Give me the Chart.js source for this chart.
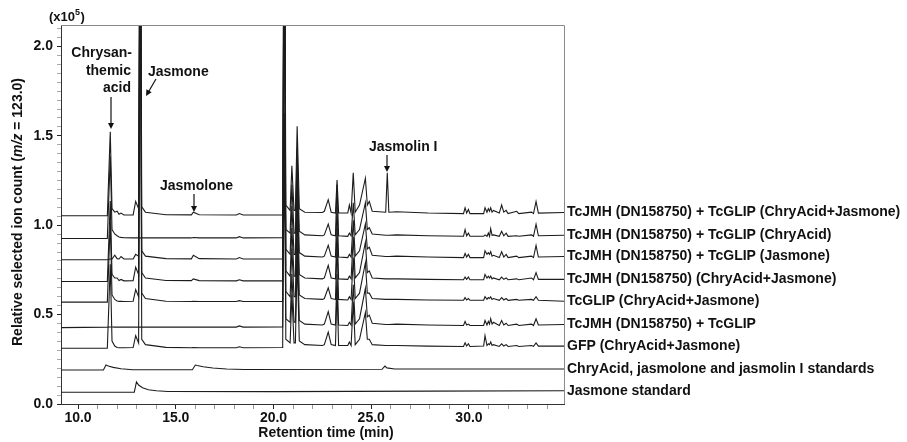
<!DOCTYPE html>
<html>
<head>
<meta charset="utf-8">
<script src="https://cdn.jsdelivr.net/npm/chart.js@4.4.1/dist/chart.umd.min.js"></script>
<style>
  body { margin: 0; background: #fff; }
</style>
</head>
<body>
<canvas id="gcChart" width="907" height="442"></canvas>
<script>
// retention time grid (min) shared by the seven sample traces
const retentionTime = [
  9.13, 11.50, 11.65, 11.74, 11.88, 12.00, 12.10, 12.20, 12.35, 12.82,
  12.95, 13.10, 13.18, 13.26, 13.45, 14.50, 15.80, 15.90, 16.20, 18.10,
  18.25, 18.45, 20.47, 20.55, 20.63, 20.85, 20.94, 21.05, 21.12, 21.21,
  21.32, 21.60, 22.50, 22.60, 22.80, 22.95, 23.17, 23.25, 23.33, 23.80,
  23.88, 23.97, 24.08, 24.18, 24.40, 24.70, 24.80, 24.90, 25.05, 25.74,
  25.82, 25.90, 26.30, 27.90, 29.72, 29.80, 29.88, 29.97, 30.05, 30.75,
  30.82, 30.92, 30.99, 31.05, 31.11, 31.18, 31.25, 31.55, 31.67, 31.78,
  31.90, 32.00, 32.44, 32.55, 33.20, 33.30, 33.43, 33.55, 34.86
];

// signal above each trace's own baseline (x10^5)
const jmhGlipBoth = [
  0, 0, 0.47, 0.04, 0.02, 0.025, 0.008, 0.015, 0.004, 0.005,
  0.08, 0.04, 2.5, 0.05, 0.02, 0.006, 0.005, 0.02, 0.006, 0.004,
  0.012, 0.004, 0.004, 2.5, 0.06, 0.03, 0.28, 0.03, 0.03, 0.50,
  0.04, 0.02, 0.018, 0.025, 0.09, 0.02, 0.015, 0.20, 0.015, 0.015,
  0.06, 0.015, 0.24, 0.02, 0.06, 0.21, 0.06, 0.08, 0.025, 0.02,
  0.24, 0.02, 0.022, 0.015, 0.012, 0.045, 0.015, 0.035, 0.012, 0.012,
  0.045, 0.02, 0.04, 0.025, 0.045, 0.02, 0.03, 0.015, 0.06, 0.02,
  0.03, 0.012, 0.025, 0.012, 0.02, 0.012, 0.08, 0.015, 0.018
];
const jmhGlipChry = [
  0, 0, 0.46, 0.05, 0.025, 0.015, 0.008, 0.006, 0.004, 0.003,
  0.003, 0.003, 0.003, 0.003, 0.003, 0.003, 0.003, 0.005, 0.003, 0.003,
  0.01, 0.003, 0.004, 0.70, 0.05, 0.03, 0.30, 0.03, 0.03, 0.50,
  0.04, 0.02, 0.015, 0.02, 0.08, 0.02, 0.015, 0.30, 0.015, 0.012,
  0.03, 0.015, 0.20, 0.02, 0.05, 0.20, 0.05, 0.06, 0.025, 0.018,
  0.018, 0.018, 0.02, 0.015, 0.012, 0.05, 0.015, 0.03, 0.012, 0.012,
  0.02, 0.012, 0.03, 0.012, 0.055, 0.018, 0.02, 0.012, 0.04, 0.015,
  0.03, 0.012, 0.015, 0.012, 0.02, 0.012, 0.08, 0.015, 0.018
];
const jmhGlipJas = [
  0, 0, 0.004, 0.004, 0.025, 0.006, 0.004, 0.018, 0.004, 0.004,
  0.03, 0.02, 2.5, 0.05, 0.02, 0.006, 0.005, 0.025, 0.006, 0.004,
  0.012, 0.004, 0.004, 2.5, 0.06, 0.03, 0.30, 0.03, 0.03, 0.50,
  0.04, 0.02, 0.015, 0.02, 0.08, 0.02, 0.015, 0.30, 0.015, 0.012,
  0.03, 0.015, 0.22, 0.02, 0.05, 0.20, 0.06, 0.07, 0.025, 0.018,
  0.018, 0.018, 0.02, 0.015, 0.012, 0.035, 0.015, 0.03, 0.012, 0.012,
  0.05, 0.03, 0.04, 0.03, 0.045, 0.02, 0.025, 0.012, 0.045, 0.015,
  0.03, 0.012, 0.02, 0.012, 0.02, 0.012, 0.08, 0.015, 0.018
];
const jmhBoth = [
  0, 0, 0.45, 0.04, 0.02, 0.02, 0.006, 0.012, 0.004, 0.005,
  0.08, 0.04, 2.5, 0.05, 0.02, 0.006, 0.005, 0.015, 0.005, 0.004,
  0.01, 0.004, 0.004, 2.5, 0.06, 0.03, 0.30, 0.03, 0.03, 0.50,
  0.04, 0.02, 0.015, 0.02, 0.09, 0.02, 0.015, 0.30, 0.015, 0.012,
  0.03, 0.015, 0.25, 0.02, 0.05, 0.22, 0.05, 0.06, 0.02, 0.015,
  0.015, 0.015, 0.015, 0.012, 0.01, 0.025, 0.012, 0.025, 0.01, 0.01,
  0.04, 0.02, 0.03, 0.02, 0.03, 0.015, 0.02, 0.01, 0.025, 0.012,
  0.02, 0.01, 0.015, 0.01, 0.02, 0.01, 0.05, 0.012, 0.012
];
const glipBoth = [
  0, 0, 0.45, 0.04, 0.015, 0.006, 0.004, 0.004, 0.003, 0.005,
  0.07, 0.03, 2.5, 0.05, 0.02, 0.005, 0.003, 0.004, 0.003, 0.003,
  0.008, 0.003, 0.004, 2.5, 0.06, 0.03, 0.30, 0.03, 0.03, 0.50,
  0.04, 0.02, 0.015, 0.02, 0.08, 0.02, 0.015, 0.32, 0.015, 0.012,
  0.03, 0.015, 0.25, 0.02, 0.05, 0.22, 0.05, 0.05, 0.02, 0.015,
  0.015, 0.015, 0.015, 0.012, 0.01, 0.025, 0.012, 0.02, 0.01, 0.01,
  0.03, 0.015, 0.025, 0.02, 0.03, 0.015, 0.02, 0.01, 0.025, 0.012,
  0.02, 0.01, 0.015, 0.01, 0.015, 0.01, 0.03, 0.01, 0.005
];
const jmhGlipNone = [
  0, 0.003, 0.004, 0.004, 0.003, 0.003, 0.003, 0.003, 0.003, 0.003,
  0.003, 0.003, 0.003, 0.003, 0.003, 0.003, 0.003, 0.004, 0.003, 0.003,
  0.01, 0.003, 0.004, 0.95, 0.05, 0.03, 0.30, 0.03, 0.03, 0.50,
  0.04, 0.02, 0.015, 0.02, 0.09, 0.02, 0.015, 0.30, 0.015, 0.012,
  0.03, 0.015, 0.24, 0.02, 0.05, 0.22, 0.06, 0.07, 0.025, 0.018,
  0.018, 0.018, 0.02, 0.015, 0.012, 0.035, 0.015, 0.02, 0.012, 0.012,
  0.04, 0.015, 0.035, 0.02, 0.05, 0.02, 0.03, 0.012, 0.04, 0.015,
  0.025, 0.012, 0.02, 0.012, 0.02, 0.012, 0.05, 0.015, 0.018
];
const gfpBoth = [
  0, 0, 0.47, 0.04, 0.012, 0.004, 0.003, 0.003, 0.003, 0.004,
  0.07, 0.03, 2.5, 0.05, 0.02, 0.005, 0.003, 0.004, 0.003, 0.003,
  0.008, 0.003, 0.004, 2.5, 0.05, 0.03, 0.30, 0.03, 0.03, 0.50,
  0.04, 0.02, 0.015, 0.02, 0.09, 0.02, 0.015, 0.33, 0.015, 0.015,
  0.035, 0.015, 0.26, 0.02, 0.05, 0.20, 0.05, 0.05, 0.02, 0.015,
  0.015, 0.015, 0.015, 0.012, 0.01, 0.03, 0.012, 0.025, 0.01, 0.012,
  0.07, 0.015, 0.025, 0.02, 0.035, 0.015, 0.02, 0.01, 0.025, 0.012,
  0.02, 0.01, 0.015, 0.01, 0.015, 0.01, 0.03, 0.012, 0.012
];

// standards runs have their own time points
const standardsTime = [9.13, 11.30, 11.43, 11.55, 11.80, 12.20, 12.80, 15.85, 16.00, 16.10, 16.40, 16.90, 17.60, 18.50, 25.55, 25.70, 25.80, 26.20, 34.86];
const standardsHeight = [0, 0, 0.028, 0.022, 0.015, 0.007, 0.002, 0.002, 0.028, 0.025, 0.018, 0.011, 0.006, 0.003, 0.004, 0.022, 0.012, 0.006, 0.006];
const jasmoneStdTime = [9.13, 12.88, 12.99, 13.10, 13.30, 13.60, 14.00, 14.60, 20.00, 28.00, 34.86];
const jasmoneStdHeight = [0, 0, 0.058, 0.04, 0.025, 0.014, 0.008, 0.004, 0.003, 0.006, 0.008];

const traceLabels = [
  "TcJMH (DN158750) + TcGLIP (ChryAcid+Jasmone)",
  "TcJMH (DN158750) + TcGLIP (ChryAcid)",
  "TcJMH (DN158750) + TcGLIP (Jasmone)",
  "TcJMH (DN158750) (ChryAcid+Jasmone)",
  "TcGLIP (ChryAcid+Jasmone)",
  "TcJMH (DN158750) + TcGLIP",
  "GFP (ChryAcid+Jasmone)",
  "ChryAcid, jasmolone and jasmolin I standards",
  "Jasmone standard"
];
const traceBaselines = [1.053, 0.926, 0.807, 0.685, 0.57, 0.427, 0.312, 0.19, 0.066];

const xMajorTicks = [10, 15, 20, 25, 30];

document.addEventListener("DOMContentLoaded", function () {
    const fontFamily = "'Liberation Sans', Arial, sans-serif";

    function toPoints(times, heights, base) {
        return times.map((t, i) => ({ x: t, y: base + heights[i] }));
    }

    const sampleSeries = [jmhGlipBoth, jmhGlipChry, jmhGlipJas, jmhBoth, glipBoth, jmhGlipNone, gfpBoth];
    const datasets = sampleSeries.map((h, i) => ({
        label: traceLabels[i],
        data: toPoints(retentionTime, h, traceBaselines[i])
    }));
    datasets.push({ label: traceLabels[7], data: toPoints(standardsTime, standardsHeight, traceBaselines[7]) });
    datasets.push({ label: traceLabels[8], data: toPoints(jasmoneStdTime, jasmoneStdHeight, traceBaselines[8]) });
    datasets.forEach((ds) => {
        ds.borderColor = "#1c1c1c";
        ds.borderWidth = 1.1;
        ds.pointRadius = 0;
        ds.tension = 0;
        ds.fill = false;
    });

    function drawArrow(ctx, x1, y1, x2, y2) {
        const ang = Math.atan2(y2 - y1, x2 - x1);
        ctx.beginPath();
        ctx.moveTo(x1, y1);
        ctx.lineTo(x2 - 5 * Math.cos(ang), y2 - 5 * Math.sin(ang));
        ctx.stroke();
        ctx.beginPath();
        ctx.moveTo(x2, y2);
        ctx.lineTo(x2 - 6 * Math.cos(ang) + 3 * Math.sin(ang), y2 - 6 * Math.sin(ang) - 3 * Math.cos(ang));
        ctx.lineTo(x2 - 6 * Math.cos(ang) - 3 * Math.sin(ang), y2 - 6 * Math.sin(ang) + 3 * Math.cos(ang));
        ctx.closePath();
        ctx.fill();
    }

    // frame, trace names, peak notes and axis titles
    const decorPlugin = {
        id: "decor",
        afterDatasetsDraw(chart) {
            const ctx = chart.ctx;
            const area = chart.chartArea;
            ctx.save();

            // top and right frame
            ctx.strokeStyle = "#8a8a8a";
            ctx.lineWidth = 1;
            ctx.beginPath();
            ctx.moveTo(area.left, area.top + 0.5);
            ctx.lineTo(area.right + 0.5, area.top + 0.5);
            ctx.lineTo(area.right + 0.5, area.bottom);
            ctx.stroke();

            ctx.fillStyle = "#111";
            ctx.strokeStyle = "#111";
            ctx.font = "bold 14px " + fontFamily;
            ctx.textBaseline = "middle";

            // trace names at the right end of each trace
            ctx.textAlign = "left";
            chart.data.datasets.forEach((ds, i) => {
                const meta = chart.getDatasetMeta(i);
                const last = meta.data[meta.data.length - 1];
                ctx.fillText(ds.label, area.right + 3, last.y);
            });

            // peak notes
            ctx.textAlign = "right";
            ctx.fillText("Chrysan-", 132, 53);
            ctx.fillText("themic", 131, 71);
            ctx.fillText("acid", 131, 88);
            ctx.textAlign = "left";
            ctx.fillText("Jasmone", 148, 72);
            ctx.fillText("Jasmolone", 160, 186);
            ctx.fillText("Jasmolin I", 369, 147);
            ctx.lineWidth = 1.2;
            drawArrow(ctx, 111, 97, 111, 129);
            drawArrow(ctx, 156, 79, 146, 96);
            drawArrow(ctx, 194, 194, 194, 212);
            drawArrow(ctx, 387, 155, 387, 172);

            // x axis title
            ctx.textAlign = "center";
            ctx.fillText("Retention time (min)", 326, 433);

            // (x10^5)
            ctx.textAlign = "left";
            ctx.font = "bold 13px " + fontFamily;
            ctx.fillText("(x10", 49, 17);
            let w = ctx.measureText("(x10").width;
            ctx.font = "bold 9px " + fontFamily;
            ctx.fillText("5", 49 + w, 13);
            const w5 = ctx.measureText("5").width;
            ctx.font = "bold 13px " + fontFamily;
            ctx.fillText(")", 49 + w + w5 + 0.5, 17);

            // y axis title with italic m/z
            const parts = [
                ["Relative selected ion count (", "bold "],
                ["m/z", "italic bold "],
                [" = 123.0)", "bold "]
            ];
            let total = 0;
            parts.forEach((p) => {
                ctx.font = p[1] + "14px " + fontFamily;
                total += ctx.measureText(p[0]).width;
            });
            ctx.translate(18, 212);
            ctx.rotate(-Math.PI / 2);
            let pos = -total / 2;
            parts.forEach((p) => {
                ctx.font = p[1] + "14px " + fontFamily;
                ctx.fillText(p[0], pos, 0);
                pos += ctx.measureText(p[0]).width;
            });
            ctx.restore();
        }
    };

    const ctx = document.getElementById("gcChart").getContext("2d");
    new Chart(ctx, {
        type: "line",
        data: { datasets: datasets },
        options: {
            responsive: false,
            animation: false,
            parsing: false,
            layout: { padding: { top: 25, right: 343, left: 0, bottom: 0 } },
            plugins: {
                legend: { display: false },
                tooltip: { enabled: false }
            },
            scales: {
                x: {
                    type: "linear",
                    min: 9.13,
                    max: 34.86,
                    afterBuildTicks: (axis) => {
                        const ticks = [];
                        for (let v = 10; v <= 34; v++) ticks.push({ value: v });
                        axis.ticks = ticks;
                    },
                    afterFit: (axis) => { axis.height = 38; },
                    ticks: {
                        autoSkip: false,
                        maxRotation: 0,
                        padding: 1,
                        color: "#111",
                        font: { family: fontFamily, size: 14, weight: "bold" },
                        callback: (v) => (xMajorTicks.includes(v) ? v.toFixed(1) : "")
                    },
                    grid: {
                        drawOnChartArea: false,
                        tickLength: 5,
                        tickColor: (c) => (c.tick && xMajorTicks.includes(c.tick.value) ? "#222" : "#999")
                    },
                    border: { color: "#333", width: 1 }
                },
                y: {
                    min: 0,
                    max: 2.12,
                    afterBuildTicks: (axis) => {
                        const ticks = [];
                        for (let i = 0; i <= 42; i++) ticks.push({ value: i * 5 / 100 });
                        axis.ticks = ticks;
                    },
                    afterFit: (axis) => { axis.width = 61; },
                    ticks: {
                        autoSkip: false,
                        padding: 4,
                        color: "#111",
                        font: { family: fontFamily, size: 14, weight: "bold" },
                        callback: (v) => (Math.abs(v * 2 - Math.round(v * 2)) < 1e-6 ? v.toFixed(1) : "")
                    },
                    grid: {
                        drawOnChartArea: false,
                        tickLength: 4,
                        tickColor: (c) => (c.tick && Math.abs(c.tick.value * 2 - Math.round(c.tick.value * 2)) < 1e-6 ? "#222" : "#aaa")
                    },
                    border: { color: "#333", width: 1 }
                }
            }
        },
        plugins: [decorPlugin]
    });
});
</script>
</body>
</html>
